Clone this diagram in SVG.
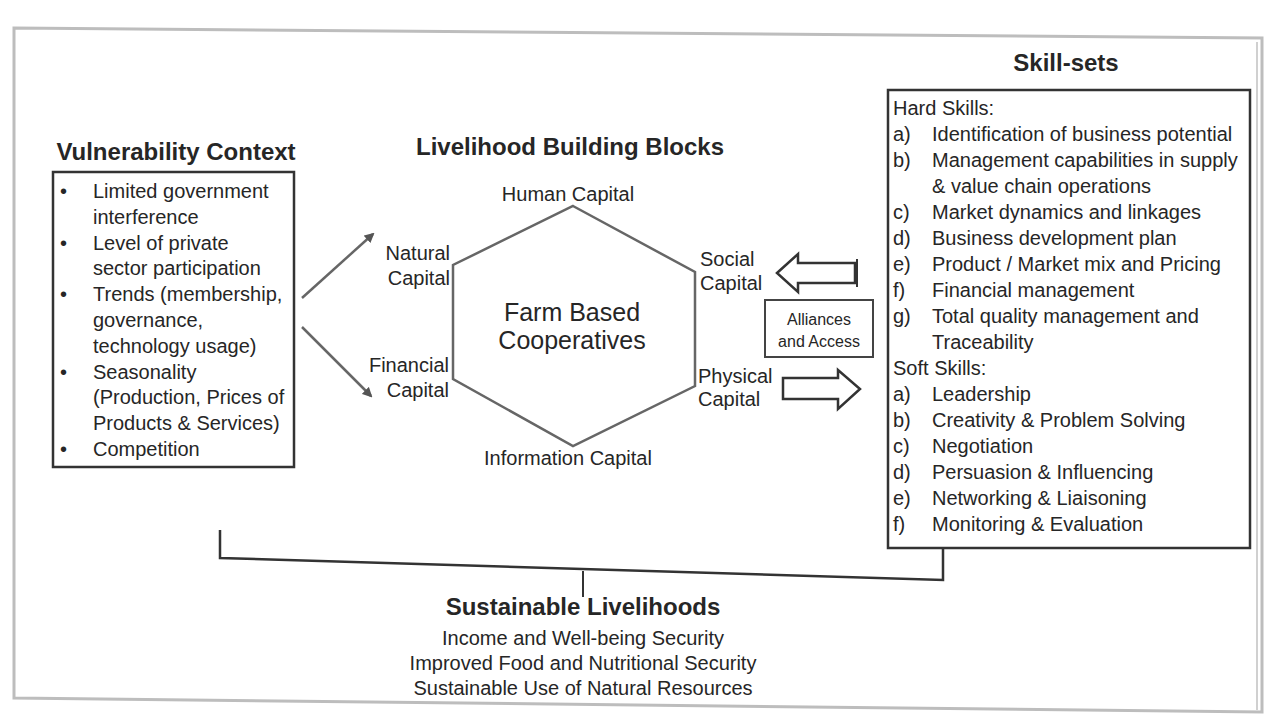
<svg xmlns="http://www.w3.org/2000/svg" width="1270" height="726" viewBox="0 0 1270 726">
<style>
text{font-family:"Liberation Sans",Arial,sans-serif;fill:#262626}
.b{font-size:20px}
.s{font-size:16px}
.h{font-size:24px;font-weight:bold}
.fb{font-size:25px}
.box{fill:#fff;stroke:#333;stroke-width:2.5}
.frame{fill:none;stroke:#bdbdbd;stroke-width:3}
.ln{fill:none;stroke:#666;stroke-width:2.5}
.hex{fill:#fff;stroke:#666;stroke-width:2.5;stroke-linejoin:miter}
.blk{fill:#fff;stroke:#333;stroke-width:2.5;stroke-linejoin:miter}
.mid{text-anchor:middle}
.end{text-anchor:end}
</style>
<defs>
<marker id="ah" viewBox="0 0 10 10" refX="8" refY="5" markerWidth="4" markerHeight="4" orient="auto"><path d="M0,0 L10,5 L0,10 z" fill="#555"/></marker>
</defs>
<rect width="1270" height="726" fill="#fff"/>
<g id="frame">
<polygon class="frame" points="14,28 1262,38 1262,712 14,698"/>
<line x1="1257" y1="42" x2="1257" y2="710" stroke="#d0d0d0" stroke-width="2"/>
</g>

<g id="vulnerability-context">
<text class="h mid" x="176" y="160">Vulnerability Context</text>
<rect class="box" x="53" y="172" width="241" height="295"/>
<g class="b">
<text x="60" y="198">•</text><text x="93" y="198">Limited government</text>
<text x="93" y="224">interference</text>
<text x="60" y="250">•</text><text x="93" y="250">Level of private</text>
<text x="93" y="275">sector participation</text>
<text x="60" y="301">•</text><text x="93" y="301">Trends (membership,</text>
<text x="93" y="327">governance,</text>
<text x="93" y="353">technology usage)</text>
<text x="60" y="379">•</text><text x="93" y="379">Seasonality</text>
<text x="93" y="404">(Production, Prices of</text>
<text x="93" y="430">Products &amp; Services)</text>
<text x="60" y="456">•</text><text x="93" y="456">Competition</text>
</g>
</g>

<g id="building-blocks-title">
<text class="h mid" x="570" y="155">Livelihood Building Blocks</text>
</g>

<g id="farm-based-cooperatives">
<polygon class="hex" points="573,206 695,272 695,386 573,446 453,379 453,265"/>
<text class="fb mid" x="572" y="321">Farm Based</text>
<text class="fb mid" x="572" y="349">Cooperatives</text>
</g>

<g id="human-capital"><text class="b mid" x="568" y="201">Human Capital</text></g>
<g id="natural-capital"><text class="b end" x="450" y="260">Natural</text><text class="b end" x="450" y="285">Capital</text></g>
<g id="financial-capital"><text class="b end" x="449" y="372">Financial</text><text class="b end" x="449" y="397">Capital</text></g>
<g id="social-capital"><text class="b" x="700" y="266">Social</text><text class="b" x="700" y="290">Capital</text></g>
<g id="physical-capital"><text class="b" x="698" y="383">Physical</text><text class="b" x="698" y="406">Capital</text></g>
<g id="information-capital"><text class="b mid" x="568" y="465">Information Capital</text></g>

<g id="alliances-access">
<rect x="765" y="300" width="108" height="57" fill="#fff" stroke="#444" stroke-width="2"/>
<text class="s mid" x="819" y="325">Alliances</text>
<text class="s mid" x="819" y="347">and Access</text>
</g>

<g id="skill-sets">
<text class="h mid" x="1066" y="71">Skill-sets</text>
<rect class="box" x="888" y="90" width="362" height="458"/>
<g class="b">
<text x="893" y="115">Hard Skills:</text>
<text x="893" y="141">a)</text><text x="932" y="141">Identification of business potential</text>
<text x="893" y="167">b)</text><text x="932" y="167">Management capabilities in supply</text>
<text x="932" y="193">&amp; value chain operations</text>
<text x="893" y="219">c)</text><text x="932" y="219">Market dynamics and linkages</text>
<text x="893" y="245">d)</text><text x="932" y="245">Business development plan</text>
<text x="893" y="271">e)</text><text x="932" y="271">Product / Market mix and Pricing</text>
<text x="893" y="297">f)</text><text x="932" y="297">Financial management</text>
<text x="893" y="323">g)</text><text x="932" y="323">Total quality management and</text>
<text x="932" y="349">Traceability</text>
<text x="893" y="375">Soft Skills:</text>
<text x="893" y="401">a)</text><text x="932" y="401">Leadership</text>
<text x="893" y="427">b)</text><text x="932" y="427">Creativity &amp; Problem Solving</text>
<text x="893" y="453">c)</text><text x="932" y="453">Negotiation</text>
<text x="893" y="479">d)</text><text x="932" y="479">Persuasion &amp; Influencing</text>
<text x="893" y="505">e)</text><text x="932" y="505">Networking &amp; Liaisoning</text>
<text x="893" y="531">f)</text><text x="932" y="531">Monitoring &amp; Evaluation</text>
</g>
</g>

<g id="sustainable-livelihoods">
<text class="h mid" x="583" y="615">Sustainable Livelihoods</text>
<text class="b mid" x="583" y="645">Income and Well-being Security</text>
<text class="b mid" x="583" y="670">Improved Food and Nutritional Security</text>
<text class="b mid" x="583" y="695">Sustainable Use of Natural Resources</text>
</g>

<g id="connectors">
<line class="ln" x1="302" y1="298" x2="373" y2="234" marker-end="url(#ah)"/>
<line class="ln" x1="302" y1="327" x2="371" y2="396" marker-end="url(#ah)"/>
<polygon class="blk" points="777,273 798,254 798,263 855,263 855,283 798,283 798,292"/>
<line x1="857" y1="259" x2="857" y2="287" stroke="#333" stroke-width="2"/>
<polygon class="blk" points="783,378 838,378 838,370 860,389 838,409 838,399 783,399"/>
<polyline fill="none" stroke="#333" stroke-width="2.5" points="220,530 220,558 943,580 943,548"/>
<line x1="583" y1="571" x2="583" y2="597" stroke="#333" stroke-width="2"/>
</g>
</svg>
